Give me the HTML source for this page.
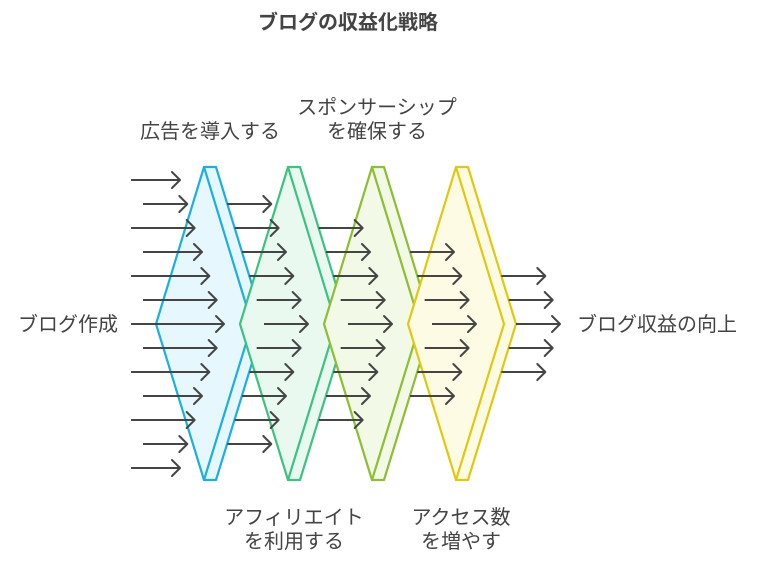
<!DOCTYPE html><html><head><meta charset="utf-8"><style>
body{margin:0;background:#fff;width:768px;height:564px;overflow:hidden}
text{font-family:"Liberation Sans","Noto Sans CJK JP",sans-serif;fill:#444;font-size:20px}
</style></head><body>
<svg id="s" width="768" height="564" xmlns="http://www.w3.org/2000/svg">
<text x="348" y="29" text-anchor="middle" font-weight="bold" style="font-size:20px">ブログの収益化戦略</text>
<text x="210" y="138" text-anchor="middle">広告を導入する</text>
<text x="377" y="114" text-anchor="middle">スポンサーシップ</text>
<text x="377" y="138" text-anchor="middle">を確保する</text>
<text x="294" y="524" text-anchor="middle">アフィリエイト</text>
<text x="294" y="548" text-anchor="middle">を利用する</text>
<text x="461" y="524" text-anchor="middle">アクセス数</text>
<text x="461" y="548" text-anchor="middle">を増やす</text>
<text x="68" y="331" text-anchor="middle">ブログ作成</text>
<text x="657" y="331" text-anchor="middle">ブログ収益の向上</text>
<g id="g"></g>
</svg>
<script>
var g=document.getElementById('g'),h='';
var cols=[['#1CB0E0','#E6F7FD'],['#3CC383','#E9F9F0'],['#8DBE33','#F2F9E6'],['#E2C812','#FDFBE4']];
for(var k=0;k<4;k++){var o=84*k,c=cols[k];
h+='<polygon points="'+(204+o)+',167 '+(216+o)+',167 '+(264+o)+',324 '+(216+o)+',480 '+(204+o)+',480" fill="'+c[1]+'" stroke="'+c[0]+'" stroke-width="2.2" stroke-linejoin="round"/>';
h+='<polygon points="'+(204+o)+',167 '+(252+o)+',324 '+(204+o)+',480 '+(156+o)+',324" fill="'+c[1]+'" stroke="'+c[0]+'" stroke-width="2.2" stroke-linejoin="round"/>';}
function arr(x1,x2,y){return '<line x1="'+x1+'" y1="'+y+'" x2="'+x2+'" y2="'+y+'" stroke="#454545" stroke-width="2"/><polyline points="'+(x2-8)+','+(y-8)+' '+x2+','+y+' '+(x2-8)+','+(y+8)+'" fill="none" stroke="#454545" stroke-width="2" stroke-linecap="round" stroke-linejoin="round"/>';}
for(var i=0;i<13;i++){var y=180+24*i,d=Math.abs(y-324);h+=arr(i%2?143:131,224-44*d/144,y);}
var rng=[[204,444],[228,420],[252,396],[276,372]];
for(var k=0;k<4;k++){for(var y=rng[k][0];y<=rng[k][1];y+=24){var x=216+84*k+48*(1-Math.abs(y-324)/157);h+=arr(x,x+44,y);}}
g.innerHTML=h;
</script>
</body></html>
